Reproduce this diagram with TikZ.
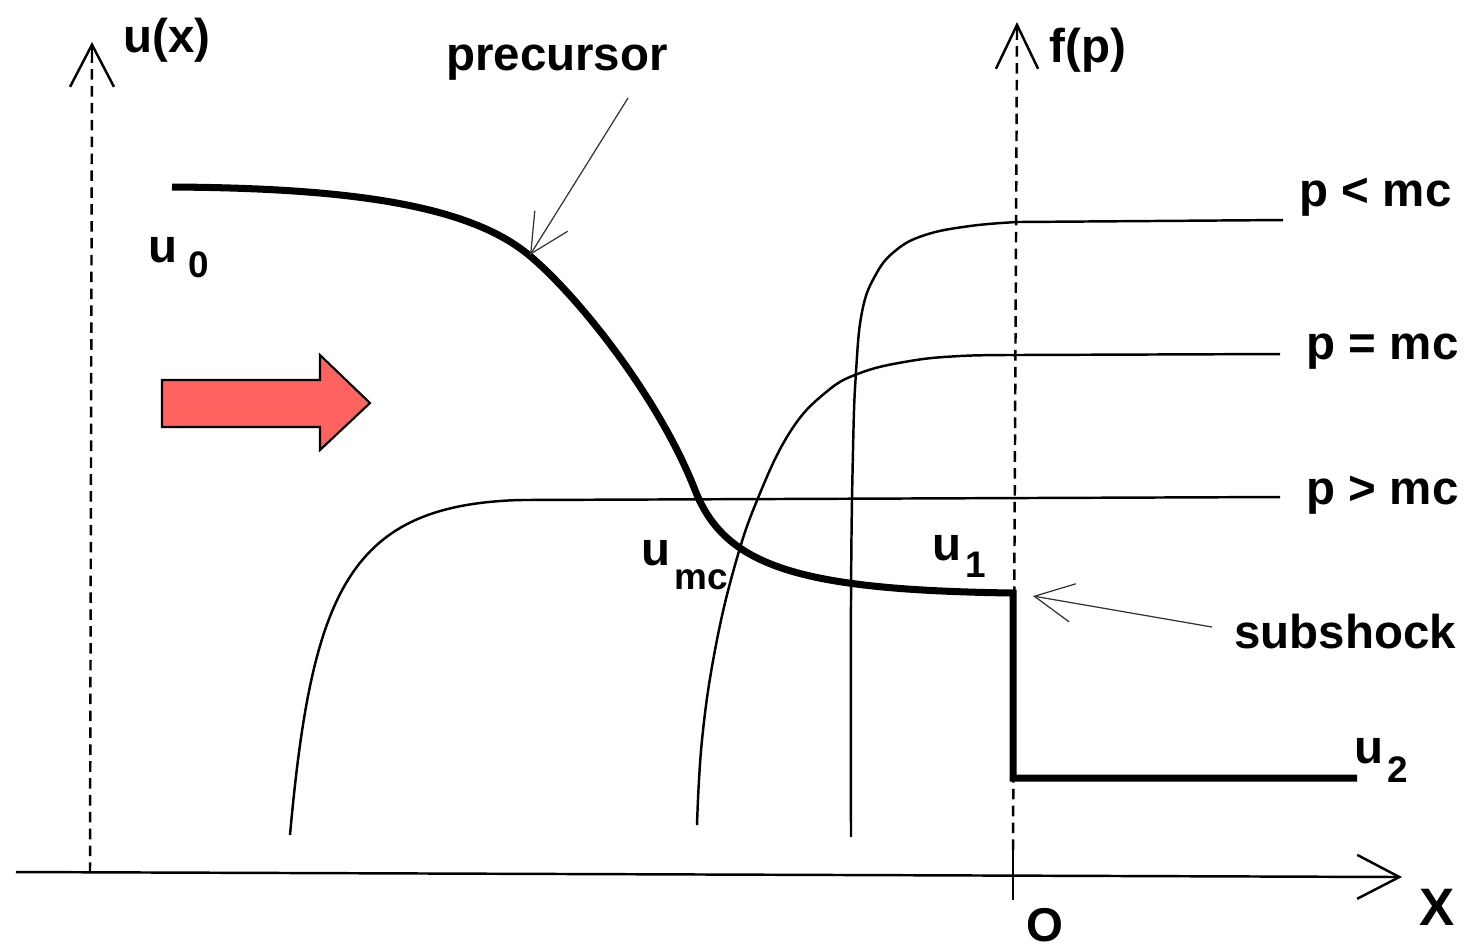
\documentclass[tikz,border=0pt]{standalone}
\usepackage{fontspec}
\setmainfont{Liberation Sans}
\usetikzlibrary{arrows.meta,calc}
\definecolor{arrowred}{RGB}{255,99,95}
\newcommand\subl[2][5pt]{\kern1pt\raisebox{-#1}{\fontsize{10.5}{12}\selectfont #2}}
\begin{document}
\begin{tikzpicture}[x=0.01cm,y=-0.01cm,
  lbl/.style={font=\fontsize{13.5}{16}\selectfont\bfseries, inner sep=0pt},
  axisline/.style={line width=0.7pt},
  dashaxis/.style={line width=0.7pt, dash pattern=on 3pt off 1.8pt},
  chev/.style={-{Straight Barb[length=12pt,width=12.5pt,line width=0.7pt]}},
  fcurve/.style={line width=0.7pt},
  ucurve/.style={line width=2pt, line join=miter},
  pointer/.style={line width=0.35pt, draw=black!80, -{Straight Barb[length=11pt,width=11pt,line width=0.35pt]}},
  bigarrow/.style={fill=arrowred, draw=black, line width=0.6pt, line join=miter}]
\useasboundingbox (0,0) rectangle (1473,947);
\fill[white] (0,0) rectangle (1473,947);

% axes
\coordinate (xL) at (16,872);
\coordinate (xR) at (1402,877);
\coordinate (uB) at (90,873);
\coordinate (uT) at (92,42);
\coordinate (fB) at (1013,850);
\coordinate (fBB) at (1013,900);
\coordinate (fT) at (1017,22);
\draw[axisline,chev] (xL) -- (xR);
\draw[dashaxis] (uB) -- ($(uT)+(0,10)$);
\draw[axisline,-{Straight Barb[length=12pt,width=12.5pt,line width=0.7pt]}] ($(uT)+(0,12)$) -- (uT);
\draw[dashaxis] (fB) -- ($(fT)+(0,10)$);
\draw[axisline,-{Straight Barb[length=12.5pt,width=12pt,line width=0.7pt]}] ($(fT)+(0,12)$) -- (fT);
\draw[axisline] (fBB) -- (fB);

% f(p) curves
\draw[fcurve] (290,835) .. controls (312,590) and (350,505) .. (520,500) -- (1280,497);
\draw[fcurve] plot[smooth,tension=0.7] coordinates {(697,825) (702,740) (715,650) (735,565) (758,498) (790,432) (825,393) (860,373) (910,361) (960,356) (1013,355)} -- (1280,354);
\draw[fcurve] plot[smooth,tension=0.7] coordinates {(851,837) (851,600) (853,450) (856,372) (862,312) (875,276) (895,251) (925,235) (970,226) (1017,222)} -- (1283,220);

% u(x) profile
\draw[ucurve] (172,187) .. controls (350,188) and (470,205) .. (530,256)
  .. controls (580,298) and (660,400) .. (695,490)
  .. controls (725,567) and (800,590) .. (1013,593)
  -- (1013,778) -- (1357,778);

% red arrow
\draw[bigarrow] (162,380) -- (320,380) -- (320,355) -- (370,403) -- (320,450) -- (320,427) -- (162,427) -- cycle;

% labels
\node[lbl] (ux) at (167,40) {u(x)};
\node[lbl] (fp) at (1088,50) {f(p)};
\node[lbl] (prec) at (557,63) {precursor};
\node[lbl] (subs) at (1345,632) {subshock};
\node[lbl,anchor=west] (plt) at (1299,197) {p < mc};
\node[lbl,anchor=west] (peq) at (1306,352) {p = mc};
\node[lbl,anchor=west] (pgt) at (1306,495) {p > mc};
\node[lbl,anchor=base west] (u0) at (148,262) {u\subl[4.5pt]{\kern2pt 0}};
\node[lbl,anchor=base west] (umc) at (641,565) {u\subl[7pt]{mc}};
\node[lbl,anchor=base west] (u1) at (932,560) {u\subl[5pt]{1}};
\node[lbl,anchor=base west] (u2) at (1354,763) {u\subl[5.5pt]{2}};
\node[lbl] (orig) at (1045,925) {O};
\node[lbl,font=\fontsize{15}{18}\selectfont\bfseries] (xlab) at (1437,907) {X};

% pointers
\coordinate (precTail) at (628,98);
\coordinate (precHead) at (530,255);
\coordinate (subTail) at (1212,627);
\coordinate (subHead) at (1033,596);
\draw[pointer] (precTail) -- (precHead);
\draw[pointer] (subTail) -- (subHead);
\end{tikzpicture}
\end{document}
